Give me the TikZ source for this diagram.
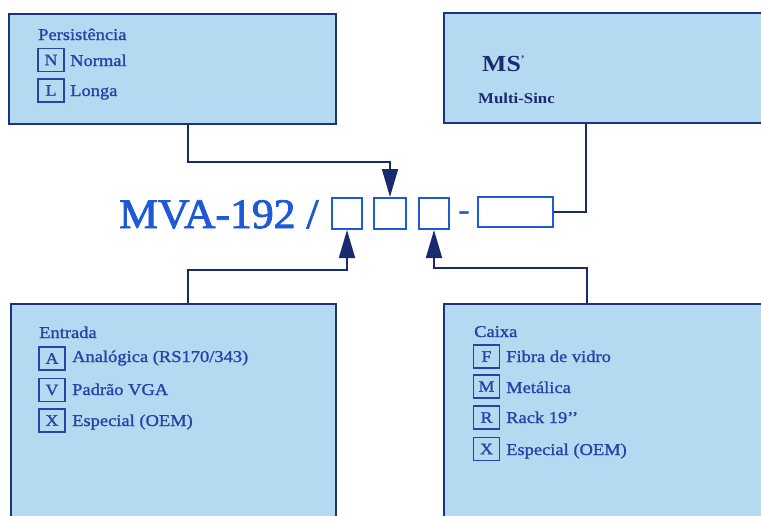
\documentclass[tikz,border=0pt]{standalone}
\usepackage{fontspec}
\setmainfont{Liberation Serif}
\newfontfamily\boxfont{Liberation Serif}[FakeStretch=1.12, FakeBold=1.3]
\newfontfamily\boxfontb{Liberation Serif Bold}[FakeStretch=1.12]
\newfontfamily\mvafont{Liberation Serif}[FakeStretch=1.04, FakeBold=2]
\usetikzlibrary{arrows.meta,calc}
\definecolor{boxfill}{HTML}{B4DAF1}
\definecolor{boxline}{HTML}{1D3282}
\definecolor{txtblue}{HTML}{2444A6}
\definecolor{navy}{HTML}{1A2A6E}
\definecolor{brightblue}{HTML}{1F5AD6}
\tikzset{
  bigbox/.style={draw=boxline, fill=boxfill, line width=2pt, anchor=north west, inner sep=0pt},
  letterbox/.style={draw=txtblue, line width=1.7pt, minimum width=26pt, minimum height=23pt, inner sep=0pt,
    font=\boxfont\fontsize{16}{16}\selectfont, text=txtblue},
  optlabel/.style={anchor=base west, inner sep=0pt, font=\boxfont\fontsize{16.5}{18}\selectfont, text=txtblue},
  codebox/.style={draw=brightblue, line width=2pt, minimum width=30pt, minimum height=31pt, inner sep=0pt},
  conn/.style={draw=navy, line width=1.8pt},
  arr/.style={conn, -{Triangle[width=16pt,length=28pt]}},
}
\begin{document}
\begin{tikzpicture}[x=1pt,y=-1pt]
\clip (0,0) rectangle (761,515);
\fill[white] (0,0) rectangle (761,515);

% big boxes
\node[bigbox, minimum width=327pt, minimum height=110pt] (pers) at (8,13) {};
\node[bigbox, minimum width=340pt, minimum height=110pt] (ms) at (443,12) {};
\node[bigbox, minimum width=325pt, minimum height=230pt] (ent) at (10,303) {};
\node[bigbox, minimum width=340pt, minimum height=230pt] (cx) at (443,303) {};

% Persistencia
\node[optlabel] (t1) at (38,40) {Persistência};
\node[letterbox] (kN) at (51,60) {N};
\node[optlabel] (tN) at (70,66) {Normal};
\node[letterbox] (kL) at (51,90.5) {L};
\node[optlabel] (tL) at (70,96) {Longa};

% MS
\node[anchor=base west, inner sep=0pt, font=\boxfontb\fontsize{23}{24}\selectfont, text=navy] (tMS) at (482,71) {MS\raisebox{0.35em}{\fontsize{10}{10}\selectfont ’}};
\node[anchor=base west, inner sep=0pt, font=\boxfontb\fontsize{15}{16}\selectfont, text=navy] (tMSs) at (478,103) {Multi-Sinc};

% Entrada
\node[optlabel] (t3) at (39,338) {Entrada};
\node[letterbox] (kA) at (52,358.5) {A};
\node[optlabel] (tA) at (72,362) {Analógica (RS170/343)};
\node[letterbox] (kV) at (52,390) {V};
\node[optlabel] (tV) at (72,395) {Padrão VGA};
\node[letterbox] (kX) at (52,420.5) {X};
\node[optlabel] (tX) at (72,426) {Especial (OEM)};

% Caixa
\node[optlabel] (t4) at (474,337) {Caixa};
\node[letterbox] (kF) at (486.5,356.5) {F};
\node[optlabel] (tF) at (506,362) {Fibra de vidro};
\node[letterbox] (kM) at (486.5,386.5) {M};
\node[optlabel] (tM) at (506,393) {Metálica};
\node[letterbox] (kR) at (486.5,417.5) {R};
\node[optlabel] (tR) at (506,423) {Rack 19’’};
\node[letterbox] (kX2) at (486.5,449) {X};
\node[optlabel] (tX2) at (506,455) {Especial (OEM)};

% code
\node[anchor=base west, inner sep=0pt, font=\mvafont\fontsize{42}{44}\selectfont, text=brightblue] (mva) at (119,228) {MVA-192 /};
\node[codebox] (ca) at (347,213.5) {};
\node[codebox, minimum width=32pt] (cb) at (390,213.5) {};
\node[codebox] (cc) at (434,213.5) {};
\node[anchor=base, inner sep=0pt, font=\fontsize{36}{40}\selectfont, text=brightblue] (dash) at (464,221) {-};
\node[codebox, minimum width=75pt, minimum height=30pt] (cl) at (515.5,212) {};

% connectors
\draw[arr] ([xshift=180pt]pers.south west) -- ++(0,37) -| (cb.north);
\draw[conn] (cl.east) -| ([xshift=143pt]ms.south west);
\draw[arr] ([xshift=178pt]ent.north west) -- ++(0,-33) -| (ca.south);
\draw[arr] ([xshift=144pt]cx.north west) -- ++(0,-35) -| (cc.south);
\end{tikzpicture}
\end{document}
